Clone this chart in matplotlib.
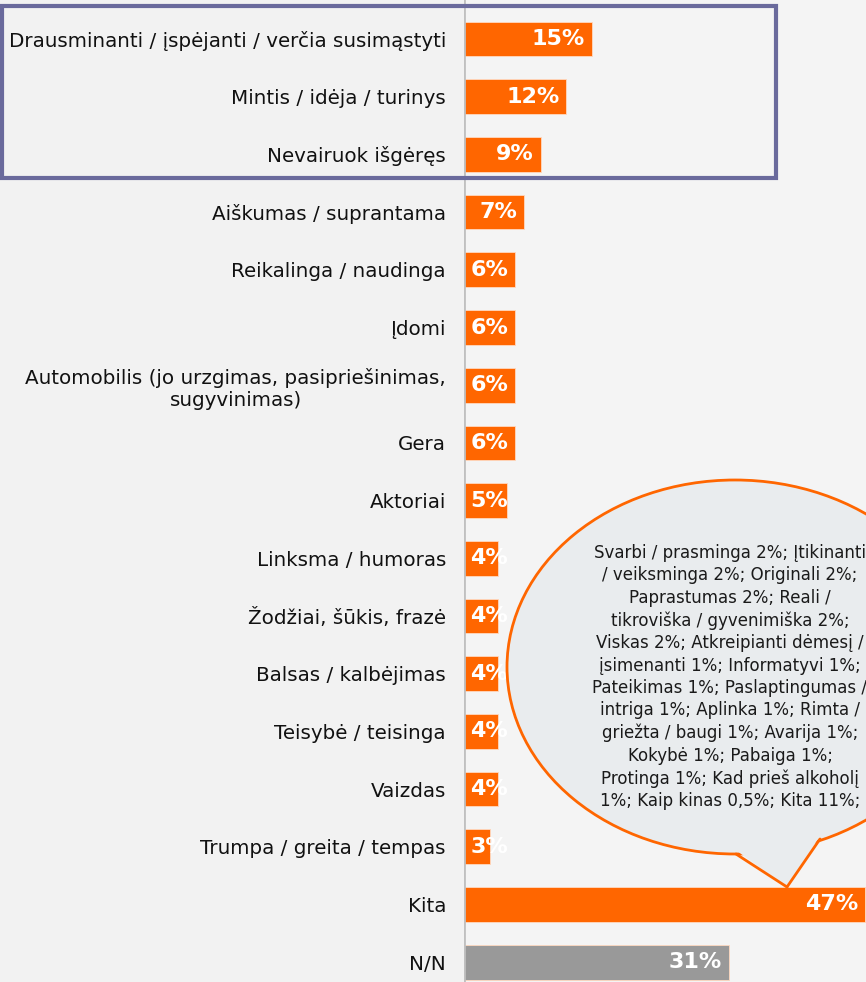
import matplotlib.pyplot as plt
from matplotlib.patches import Rectangle, Ellipse, Polygon
from matplotlib.lines import Line2D

# data
labels = [
    "Drausminanti / įspėjanti / verčia susimąstyti",
    "Mintis / idėja / turinys",
    "Nevairuok išgėręs",
    "Aiškumas / suprantama",
    "Reikalinga / naudinga",
    "Įdomi",
    "Automobilis (jo urzgimas, pasipriešinimas,\nsugyvinimas)",
    "Gera",
    "Aktoriai",
    "Linksma / humoras",
    "Žodžiai, šūkis, frazė",
    "Balsas / kalbėjimas",
    "Teisybė / teisinga",
    "Vaizdas",
    "Trumpa / greita / tempas",
    "Kita",
    "N/N",
]
values = [15, 12, 9, 7, 6, 6, 6, 6, 5, 4, 4, 4, 4, 4, 3, 47, 31]
bubble_lines = [
    "Svarbi / prasminga 2%; Įtikinanti",
    "/ veiksminga 2%; Originali 2%;",
    "Paprastumas 2%; Reali /",
    "tikroviška / gyvenimiška 2%;",
    "Viskas 2%; Atkreipianti dėmesį /",
    "įsimenanti 1%; Informatyvi 1%;",
    "Pateikimas 1%; Paslaptingumas /",
    "intriga 1%; Aplinka 1%; Rimta /",
    "griežta / baugi 1%; Avarija 1%;",
    "Kokybė 1%; Pabaiga 1%;",
    "Protinga 1%; Kad prieš alkoholį",
    "1%; Kaip kinas 0,5%; Kita 11%;",
]

W, H = 866, 982
fig = plt.figure(figsize=(W / 100, H / 100), dpi=100)
fig.patch.set_facecolor("#f2f2f2")

ax_left = 464 / W
ax = fig.add_axes([ax_left, 0, 1 - ax_left, 1])
ax.set_facecolor("#f4f4f4")

colors = ["#ff6600"] * (len(values) - 1) + ["#999999"]
pos = list(range(len(values)))
ax.barh(pos, values, height=0.6, color=colors, edgecolor="#ffd9c0", linewidth=0.6, zorder=2)

# value labels
for p, v in zip(pos, values):
    if v <= 6:
        ax.text(0.75, p, f"{v}%", ha="left", va="center", color="white",
                fontsize=16, fontweight="bold", zorder=3)
    else:
        ax.text(v - 0.8, p, f"{v}%", ha="right", va="center", color="white",
                fontsize=16, fontweight="bold", zorder=3)

ax.set_xlim(0, 47.1)
row = 57.7
ax.set_ylim((H - 39) / row, -39 / row)
ax.set_yticks(pos)
ax.set_yticklabels(labels, fontsize=14.3, color="#111111")
ax.tick_params(axis="y", length=0, pad=13)
ax.tick_params(axis="x", bottom=False, labelbottom=False)
for lbl in ax.get_yticklabels():
    lbl.set_multialignment("center")
for s in ax.spines.values():
    s.set_visible(False)
ax.axvline(0, color="#c0c0c0", lw=2, zorder=4)

# highlight box around the top three answers
fig.patches.append(Rectangle((2 / W, 1 - 178 / H), 774 / W, 172 / H, transform=fig.transFigure,
                             fill=False, edgecolor="#6a6a9c", lw=3, zorder=10))

# speech bubble
bface = "#e9ecee"
borange = "#ff6600"
fig.patches.append(Ellipse((735 / W, 1 - 667 / H), 2 * 228 / W, 2 * 187 / H,
                           transform=fig.transFigure, facecolor=bface, edgecolor=borange,
                           lw=2, zorder=5))
tail = [(737, 851), (787, 887), (820, 836), (790, 830), (760, 835)]
fig.patches.append(Polygon([(x / W, 1 - y / H) for x, y in tail], closed=True,
                           transform=fig.transFigure, facecolor=bface, edgecolor="none", zorder=6))
for seg in [[(736, 854), (787, 887)], [(787, 887), (820, 839)]]:
    fig.lines.append(Line2D([seg[0][0] / W, seg[1][0] / W], [1 - seg[0][1] / H, 1 - seg[1][1] / H],
                            transform=fig.transFigure, color=borange, lw=2, zorder=7,
                            solid_capstyle="round"))

fig.text(730 / W, 1 - 677 / H, "\n".join(bubble_lines), ha="center", va="center",
         fontsize=12, color="#1a1a1a", linespacing=1.31, zorder=8)

fig.savefig("out.png", dpi=100, facecolor=fig.get_facecolor())
